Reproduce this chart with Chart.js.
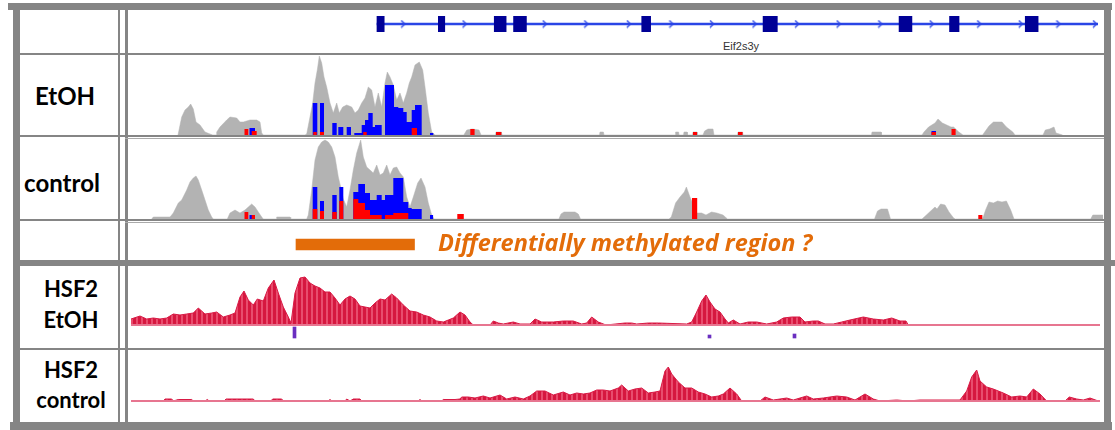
<!DOCTYPE html>
<html><head><meta charset="utf-8">
<script src="https://cdn.jsdelivr.net/npm/chart.js@4.4.0/dist/chart.umd.min.js"></script>
<style>
html,body{margin:0;padding:0;background:#fff;width:1115px;height:430px;overflow:hidden;}
#stage{position:relative;width:1115px;height:430px;}
canvas{position:absolute;}
.ln{position:absolute;background:#858585;z-index:5;}
.lbl{position:absolute;font-family:Lato,'Open Sans',sans-serif;font-weight:700;color:#000;white-space:nowrap;line-height:1.2;text-align:center;}
#dmrTxt{position:absolute;font-family:'Open Sans',Lato,sans-serif;font-weight:700;font-style:italic;color:#e36c09;white-space:nowrap;line-height:1.2;}
#geneName{position:absolute;font-family:'Liberation Sans',Arial,sans-serif;font-size:11px;color:#333;line-height:1.2;text-align:center;}
</style></head><body><div id="stage">
<canvas id="geneCv" width="975" height="26" style="left:128px;top:11px"></canvas>
<canvas id="etohCv" width="975" height="80" style="left:128px;top:55px"></canvas>
<canvas id="ctrlCv" width="975" height="80" style="left:128px;top:139px"></canvas>
<canvas id="dmrCv" width="975" height="17" style="left:128px;top:236px"></canvas>
<canvas id="hsfECv" width="975" height="81" style="left:128px;top:267px"></canvas>
<canvas id="hsfCCv" width="975" height="72" style="left:128px;top:350px"></canvas>

<div class="ln" style="left:8px;top:3px;width:1104px;height:7px"></div>
<div class="ln" style="left:13px;top:3px;width:7px;height:427px"></div>
<div class="ln" style="left:1104px;top:3px;width:7px;height:427px"></div>
<div class="ln" style="left:10px;top:422px;width:1102px;height:8px"></div>
<div class="ln" style="left:13px;top:260px;width:1102px;height:6px"></div>
<div class="ln" style="left:118px;top:10px;width:2px;height:412px"></div>
<div class="ln" style="left:125px;top:10px;width:3px;height:412px"></div>
<div class="ln" style="left:20px;top:53px;width:1084px;height:2px"></div>
<div class="ln" style="left:20px;top:135px;width:1084px;height:2px"></div>
<div class="ln" style="left:125px;top:138px;width:979px;height:1px;background:#aaa"></div>
<div class="ln" style="left:20px;top:219px;width:1084px;height:2px"></div>
<div class="ln" style="left:125px;top:222px;width:979px;height:1px;background:#aaa"></div>
<div class="ln" style="left:20px;top:348px;width:1084px;height:2px"></div>

<div class="lbl" style="left:30px;top:82px;width:70px;font-size:24px">EtOH</div>
<div class="lbl" style="left:22px;top:169px;width:80px;font-size:24px">control</div>
<div class="lbl" style="left:31px;top:276px;width:80px;font-size:22px">HSF2</div>
<div class="lbl" style="left:31px;top:307px;width:80px;font-size:22px">EtOH</div>
<div class="lbl" style="left:31px;top:357px;width:80px;font-size:22px">HSF2</div>
<div class="lbl" style="left:31px;top:387px;width:80px;font-size:22px">control</div>
<div id="geneName" style="left:701px;top:40px;width:80px">Eif2s3y</div>
<div id="dmrTxt" style="left:438px;top:228px;font-size:23.5px">Differentially methylated region ?</div>
</div>
<script>
// ---- data (x = relative position along the locus, 0..975) ----
const geneName = 'Eif2s3y';
const geneSpan = [246.5, 975];
const geneExons = [[246.5,253.8],[308.5,315],[365,377],[384.5,397.5],[514,523],[636.6,651],[774,787],[825,834.6],[901.5,914.5]];
const geneStrandArrows = [273,335,416,458,501,544,585,628,671,713,755,807,855,897,935,972];

const etohCoverage = [[50,0],[53.7,18],[57,25],[60.3,28],[62.7,31],[65.3,26],[68,13],[72,10],[77,3],[82,1],[84.7,0],
[88,0],[88.7,3],[92,8],[98.7,15],[102,18],[108.7,17],[112,13],[115.3,13],[122,15],[128.7,15],[132,13],[133.7,2],[135.3,0],
[177,0],[178.7,1],[182,18],[184.7,32],[187,52],[189.3,65],[191.3,79],[193.7,72],[196,58],[198.7,48],[202,32],[205.3,22],[208.7,32],[211.3,22],[214.7,28],[218.7,30],[223.7,28],[227,22],[230.3,25],[233.7,32],[237,37],[240.3,48],[243.7,45],[247,28],[250.3,42],[253.7,28],[257,52],[259.3,63],[262,58],[265.3,50],[268.7,35],[272,42],[275.3,32],[278.7,42],[281.3,52],[283.7,58],[287,70],[291.3,73],[294.7,65],[297,48],[300.3,22],[303.7,3],[307,0],
[335.8,0],[338.8,5],[344.4,6],[351,5],[353,0],[367.5,0],[368,3],[373.4,3],[374,0],[471.5,0],[472,3],[475.4,3],[476,0],
[547,0],[547.6,3],[550.6,3],[551,0],[555.5,0],[556,3],[559,3],[559.5,0],[564.5,0],[565,3],[569,3],[569.5,0],[575,0],[576.6,4],[580,6],[585,6],[586,0],
[609.5,0],[610,3],[614.6,3],[615,0],[743.5,0],[744,3],[753,3],[753.5,0],
[794,0],[796,3],[800.6,8],[807,12],[810,16],[814.4,12],[818.7,10],[823,8],[825.6,8],[830.8,3],[835,0],
[854.6,0],[856.7,3],[861,9],[865.4,13],[874,13],[878.4,8],[884.8,3],[887,0],
[915,0],[917.3,5],[921.6,6],[926,8],[928,2],[934.6,0]];
const etohUnmeth = [[121.3,127,7],[184.7,189.3,32],[192,196,32],[204.3,208.7,12],[210.3,215.3,8],[218.7,223,8],[226.3,233.7,2],[233.7,237,10],[237,240.3,15],[240.3,244.7,22],[244.7,247,8],[247,253.7,10],[257,266,50],[266,270.3,28],[270.3,275.3,27],[275.3,278.7,23],[278.7,283.7,13],[283.7,287,25],[287,293.7,30],[302,305.3,2],[803.5,808,4]];
const etohMeth = [[116.3,120.3,6],[123.7,128.7,4],[185.3,188.7,3],[192,196,3],[235.3,238.7,3],[283.7,289,7],[342.3,346.6,6],[368,373.4,3],[565,569,3],[610,614.6,3],[803.5,808,3],[823.5,827.8,6]];

const ctrlCoverage = [[23.7,0],[25.3,2],[42,2],[43.7,4],[45.3,6],[50.3,16],[53.7,19],[58.7,29],[62,37],[65.3,41],[68,43],[70.3,39],[73.7,29],[77,19],[80.3,9],[83.7,2],[85.3,0],
[99.3,0],[102,6],[107,9],[112,6],[117,9],[120.3,12],[123.7,15],[127,12],[130.3,7],[133.7,2],[135.3,0],[148,0],[148.7,2],[162,2],[162.7,0],
[178.7,0],[180.3,4],[183.7,29],[187,59],[190.3,72],[193.7,77],[197,79],[200.3,77],[203.7,72],[207,62],[210.3,42],[212.7,32],[215.3,20],[218.7,12],[222,29],[225.3,49],[228.7,66],[232.7,79],[235.3,62],[238.7,52],[242,49],[245.3,46],[248.7,54],[252,44],[255.3,46],[258.7,54],[262,44],[265.3,51],[268.7,52],[272,46],[275.3,42],[278.7,22],[282,12],[285.3,22],[289.7,36],[293,41],[297,32],[300.3,16],[303.7,4],[306,0],
[430.9,0],[433,5],[436,7],[447,7],[450.3,5],[452.5,0],
[541,0],[543.3,2],[547.6,16],[552,22],[556.3,27],[558.4,32],[562,22],[565,15],[567,6],[573.6,6],[578,4],[583.5,7],[588.7,6],[595,4],[599.5,0],
[746.5,0],[749.5,8],[753,10],[759.5,10],[762.5,0],
[794,0],[798.4,4],[802.7,8],[807,12],[809,10],[812.6,15],[817,14],[821,7],[825.6,1],[827.3,0],
[854.6,0],[857.6,9],[861,17],[865.4,16],[869.7,18],[874,17],[878.4,18],[882.7,9],[886,0],
[962.7,0],[964.8,4],[975,4]];
const ctrlUnmeth = [[121.3,124.7,4],[184.7,189.3,32],[192,196,18],[204.3,208.7,24],[211.3,215.3,32],[225.3,230.3,27],[230.3,237,35],[237,242,26],[242,248.7,19],[248.7,253.7,24],[253.7,257,19],[257,265.3,24],[265.3,275.3,41],[275.3,280.3,17],[280.3,283.7,11],[283.7,293.7,10],[302,305.3,4]];
const ctrlMeth = [[116.3,120.3,7],[123.7,127,4],[184.7,189.3,10],[192,196,8],[204.3,208.7,7],[211.3,215.3,18],[225.3,230.3,20],[230.3,237,16],[237,242,9],[242,248.7,4],[248.7,253.7,4],[257,265.3,4],[265.3,275.3,6],[275.3,280.3,6],[329.3,335.8,5],[564,569.2,21],[850.3,854.6,4]];

const dmrRegion = [168, 286.5];

const hsfEtohSignal = [[3,6],[12,9],[18.7,6],[25.3,7],[32,6],[38.7,7],[45.3,11],[52,10],[58.7,11],[65.3,12],[70.3,17],[77,11],[83.7,12],[88.7,13],[95.3,8],[102,10],[107,12],[112,28],[116,34],[120.3,25],[125.3,20],[129.3,26],[135.3,24],[140.3,37],[146,45],[150.3,32],[155.3,18],[160.3,8],[163,2],[167,32],[172,47],[177,48],[182,42],[187,39],[192,37],[197,33],[202,33],[207,27],[212,20],[217,26],[222,29],[227,26],[232,19],[237,18],[242,17],[247,22],[252,26],[257,25],[263.7,31],[268.7,27],[275.3,20],[282,14],[288.7,13],[295.3,10],[302,8],[308.7,4],[315.3,3],[320.3,5],[325.3,7],[332,13],[337,10],[342,3],[345.3,0],[362,0],[365.3,4],[370.3,2],[375.3,1],[385.3,3],[392,1],[402,1],[407,6],[413.7,3],[425.3,3],[435.3,4],[445.3,4],[453.7,1],[458.7,2],[463.7,8],[470.3,3],[478,0],[497,2],[503.7,2],[508.7,1],[520.3,2],[530.3,2],[558.7,1],[563.7,3],[568.7,13],[573.7,24],[578,30],[582,23],[587,16],[592,13],[597,6],[600.3,2],[605.3,5],[612,1],[620.3,3],[628.7,3],[638.7,1],[648.7,3],[655.3,7],[663.7,8],[672,8],[677,3],[685.3,4],[690.3,4],[697,1],[705.3,1],[713.7,3],[722,5],[735.3,8],[745.3,6],[755.3,5],[763.7,7],[772,4],[778,4],[780.3,0]];
const hsfEtohPeaks = [[166.5,-13,-2],[581.5,-13,-10],[666.5,-13,-9]];
const hsfCtrlSignal = [[3,0],[35.3,0],[37,2],[43.7,2],[45.3,0],[50.3,1.5],[63.7,1.5],[65.3,0],[77,0],[79.3,1.5],[81.3,0],[96,0],[98,2],[125.3,2],[127,0],[142.7,0],[144.7,2],[153.7,2],[155.3,0],[200.3,0],[202,1.5],[203.7,0],[217,0],[218.7,2],[222,0],[225.3,2],[232,2],[233.7,0],[290.3,0],[292,1.5],[293.7,0],[313.7,0],[315.3,1.5],[327,1.5],[332,2],[333.7,4],[340.3,4],[347,3],[355.3,5],[362,3],[372,6],[378.7,2],[387,4],[395.3,2],[402,5],[408.7,10],[417,10],[425.3,6],[435.3,9],[442,6],[448.7,8],[455.3,7],[462,8],[468.7,11],[475.3,11],[482,10],[490.3,13],[493.7,16],[500.3,10],[507,12],[513.7,13],[520.3,8],[527,9],[532,10],[537,30],[540.3,34],[543.7,27],[550.3,19],[557,13],[563.7,13],[570.3,9],[577,7],[583.7,4],[590.3,5],[595.3,7],[602,13],[608.7,7],[613.7,0],[632,0],[637,4],[645.3,1],[658.7,3],[665.3,1],[678.7,5],[685.3,2],[695.3,3],[708.7,5],[718.7,4],[727,1],[737,7],[745.3,2],[752,0],[768.7,1],[780.3,0],[792,1],[802,1],[832,1],[838.7,10],[843.7,24],[848.7,31],[852,20],[858.7,14],[865.3,12],[875.3,8],[883.7,4],[892,5],[898.7,4],[905.3,12],[912,7],[918.7,0],[937,0],[941.3,4],[948.7,2],[955.3,1],[962,3],[970.3,0]];
const signalBaseline = [3, 972];
const locusRange = [0, 975];

// ---- helpers ----
const pts = a => a.map(p => ({x:p[0], y:p[1]}));
const steps = segs => { const o=[]; segs.slice().sort((a,b)=>a[0]-b[0]).forEach(s=>{o.push({x:s[0],y:s[2]});o.push({x:s[1],y:0});}); return o; };
function xScale(){ return {type:'linear', min:locusRange[0], max:locusRange[1], offset:false, display:false}; }
function baseOpts(ymin, ymax){
  return {responsive:false, animation:false, events:[], layout:{padding:0},
    plugins:{legend:{display:false}, tooltip:{enabled:false}},
    elements:{point:{radius:0}, line:{tension:0}},
    scales:{x:xScale(), y:{min:ymin, max:ymax, display:false}}};
}
function stripes(){
  const c=document.createElement('canvas'); c.width=5; c.height=10;
  const g=c.getContext('2d'); g.fillStyle='#d6173f'; g.fillRect(0,0,5,10);
  g.fillStyle='#e84d6e'; g.fillRect(3,0,2,10);
  return g.createPattern(c,'repeat');
}
function chevron(){
  const c=document.createElement('canvas'); c.width=6; c.height=9;
  const g=c.getContext('2d'); g.strokeStyle='#2a45e6'; g.lineWidth=1.4;
  g.beginPath(); g.moveTo(1,1); g.lineTo(4.5,4.5); g.lineTo(1,8); g.stroke();
  return c;
}

// gene track
new Chart(document.getElementById('geneCv'), {
  type:'bar',
  data:{labels:[geneName], datasets:[
    {type:'line', showLine:false, data:geneStrandArrows.map(x=>({x:x, y:geneName})), pointStyle:chevron(), pointRadius:4, order:0},
    {data:geneExons.map(e=>({x:e, y:geneName})), backgroundColor:'#000096', barThickness:18, grouped:false, order:1},
    {data:[{x:geneSpan, y:geneName}], backgroundColor:'#2a45e6', barThickness:2, grouped:false, order:2}
  ]},
  options:Object.assign(baseOpts(), {indexAxis:'y', scales:{x:xScale(), y:{type:'category', display:false}}})
});

function methChart(id, cov, unm, met){
  new Chart(document.getElementById(id), {
    type:'line',
    data:{datasets:[
      {data:steps(met), stepped:true, fill:'origin', backgroundColor:'#ff0000', borderWidth:0, order:1},
      {data:steps(unm), stepped:true, fill:'origin', backgroundColor:'#0000ff', borderWidth:0, order:2},
      {data:pts(cov), fill:'origin', backgroundColor:'#b3b3b3', borderColor:'#b3b3b3', borderWidth:0.5, order:3}
    ]},
    options:baseOpts(0, 80)
  });
}
methChart('etohCv', etohCoverage, etohUnmeth, etohMeth);
methChart('ctrlCv', ctrlCoverage, ctrlUnmeth, ctrlMeth);

new Chart(document.getElementById('dmrCv'), {
  type:'bar',
  data:{labels:['DMR'], datasets:[{data:[{x:dmrRegion, y:'DMR'}], backgroundColor:'#e36c09', barThickness:11}]},
  options:Object.assign(baseOpts(), {indexAxis:'y', scales:{x:xScale(), y:{type:'category', display:false}}})
});

function hsfChart(id, sig, peaks, ymin, ymax){
  const ds = [
    {type:'line', data:pts(sig), fill:'origin', backgroundColor:stripes(), borderColor:'#d81a45', borderWidth:1, order:2},
    {type:'line', data:signalBaseline.map(x=>({x:x, y:0})), borderColor:'#e77590', borderWidth:2, fill:false, order:1}
  ];
  if (peaks) ds.push({type:'bar', data:peaks.map(p=>({x:p[0], y:[p[1],p[2]]})), backgroundColor:'#6a2fc0', barThickness:3, order:0});
  new Chart(document.getElementById(id), {type:'line', data:{datasets:ds}, options:baseOpts(ymin, ymax)});
}
hsfChart('hsfECv', hsfEtohSignal, hsfEtohPeaks, -23, 58);
hsfChart('hsfCCv', hsfCtrlSignal, null, -21, 51);
</script>
</body></html>
